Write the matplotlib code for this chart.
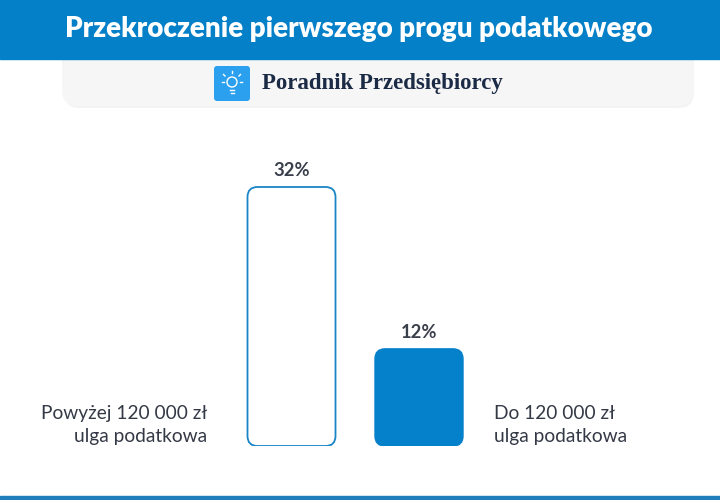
import matplotlib
matplotlib.use("Agg")
import matplotlib.pyplot as plt
from matplotlib.patches import FancyBboxPatch, Rectangle

# Data
categories = ["Powyżej 120 000 zł\nulga podatkowa", "Do 120 000 zł\nulga podatkowa"]
values = [32, 12]
value_labels = ["32%", "12%"]

title = "Przekroczenie pierwszego progu podatkowego"
brand = "Poradnik Przedsiębiorcy"

blue = "#0480C8"
text_dark = "#343946"
W, H = 720, 500

fig = plt.figure(figsize=(W / 100, H / 100), dpi=100)

# background layer in pixel coords (y from top)
bg = fig.add_axes([0, 0, 1, 1])
bg.set_xlim(0, W)
bg.set_ylim(H, 0)
bg.axis("off")

# grey brand panel with soft shadow
bg.add_patch(FancyBboxPatch((64, 44), 630, 64, boxstyle="round,pad=0,rounding_size=16",
                            fc="#ececec", ec="none", zorder=0.5, alpha=0.6))
bg.add_patch(FancyBboxPatch((62, 40), 632, 66, boxstyle="round,pad=0,rounding_size=16",
                            fc="#f6f6f6", ec="none", zorder=0.8))
bg.add_patch(Rectangle((0, 0), W, 59, color=blue, zorder=1))
bg.text(359, 29, title, color="white", fontsize=20, fontweight="heavy",
        family="Lato", ha="center", va="center", zorder=2)

# logo square with a simple bulb icon
bg.add_patch(FancyBboxPatch((214, 66), 36, 35, boxstyle="round,pad=0,rounding_size=3",
                            fc="#2aa0ee", ec="none", zorder=2))
bg.add_patch(plt.Circle((232, 82), 5, fc="none", ec="white", lw=1.0, zorder=3))
bg.plot([230, 234], [90, 90], color="white", lw=1.0, zorder=3)
bg.plot([230.5, 233.5], [92.5, 92.5], color="white", lw=1.0, zorder=3)
for x0, y0, x1, y1 in [(232, 73, 232, 71), (225, 76, 223.5, 74.5), (239, 76, 240.5, 74.5),
                       (224, 82, 222, 82), (240, 82, 242, 82)]:
    bg.plot([x0, x1], [y0, y1], color="white", lw=1.0, zorder=3)

bg.text(262, 84, brand, color="#1b2a45", fontsize=16.5, fontweight="bold",
        family="Liberation Serif", ha="left", va="center", zorder=2)

# bottom line
bg.add_patch(Rectangle((0, 496), W, 4, color="#1f7fbd", zorder=1))

# bar axes: px 200..520 horizontally, 150..446 vertically
ax_left, ax_right, ax_top, ax_bot = 200, 520, 150, 446
ax = fig.add_axes([ax_left / W, 1 - ax_bot / H, (ax_right - ax_left) / W, (ax_bot - ax_top) / H])
ax.patch.set_alpha(0)
ax.axis("off")
px_x = 127.5
px_y = 259 / values[0]
ax.set_xlim(-(291.5 - ax_left) / px_x, (ax_right - 291.5) / px_x)
ax.set_ylim(0, (ax_bot - ax_top) / px_y)

positions = list(range(len(values)))
bars = ax.bar(positions, values, width=88 / px_x, alpha=0)
aspect = px_x / px_y
styles = [dict(fc="white", ec="#1985c6", lw=1.3), dict(fc="#0580CA", ec="#0580CA", lw=1.0)]
for b, st, lab in zip(bars, styles, value_labels):
    x, y, w, h = b.get_x(), b.get_y(), b.get_width(), b.get_height()
    ax.add_patch(FancyBboxPatch((x, y), w, h, boxstyle=f"round,pad=0,rounding_size={10 / px_x}",
                                mutation_aspect=aspect, **st))
    ax.text(x + w / 2, h + 16 / px_y, lab, ha="center", va="center",
            fontsize=13.2, family="Lato", fontweight="bold", color="#3a3f4c")

ax.text(positions[0] - 84 / px_x, 21 / px_y, categories[0], ha="right", va="center",
        fontsize=13.8, family="Lato", color=text_dark, linespacing=1.45)
ax.text(positions[1] + 75 / px_x, 21 / px_y, categories[1], ha="left", va="center",
        fontsize=13.8, family="Lato", color=text_dark, linespacing=1.45)

fig.savefig("out.png", dpi=100)
